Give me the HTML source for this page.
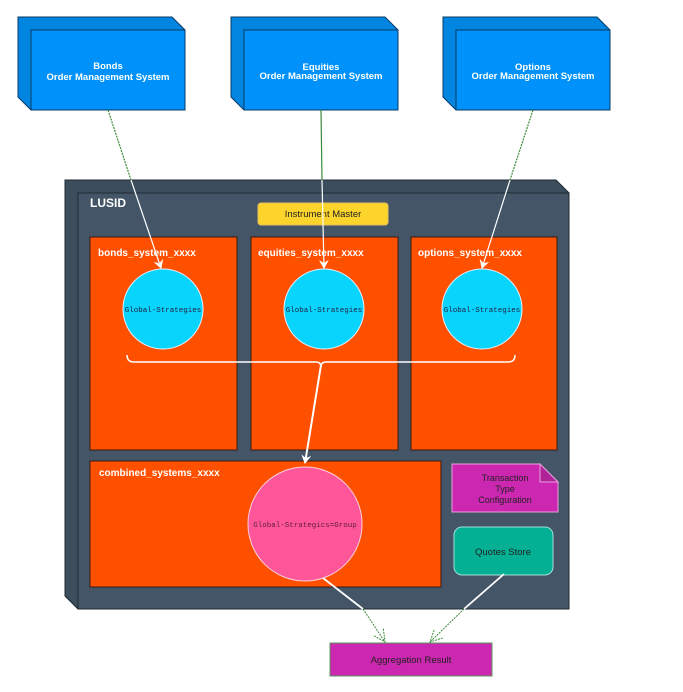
<!DOCTYPE html>
<html><head><meta charset="utf-8"><style>
html,body{margin:0;padding:0;background:#fff;}
svg{display:block;font-family:"Liberation Sans",sans-serif;}
</style></head><body>
<svg width="683" height="692" viewBox="0 0 683 692" xmlns="http://www.w3.org/2000/svg">
<defs>
<marker id="wa" markerWidth="10" markerHeight="10" refX="8" refY="5" orient="auto" markerUnits="userSpaceOnUse"><path d="M0,0 L9,5 L0,10 L3,5 Z" fill="#fff"/></marker>
<marker id="ga" markerWidth="14" markerHeight="14" refX="12" refY="7" orient="auto" markerUnits="userSpaceOnUse"><path d="M0,1 L12,7 L0,13" fill="none" stroke="#3a8a3a" stroke-width="1" stroke-dasharray="2,1"/></marker>
</defs>
<g stroke="#0a3a66" stroke-width="1">
<polygon points="18,17 172,17 185,30 185,110 31,110 18,97" fill="#0086e0"/>
<rect x="31" y="30" width="154" height="80" fill="#0092fa"/>
<polygon points="231,17 385,17 398,30 398,110 244,110 231,97" fill="#0086e0"/>
<rect x="244" y="30" width="154" height="80" fill="#0092fa"/>
<polygon points="443,17 597,17 610,30 610,110 456,110 443,97" fill="#0086e0"/>
<rect x="456" y="30" width="154" height="80" fill="#0092fa"/>
</g>
<g fill="#fff" font-size="9.5" font-weight="bold" text-anchor="middle">
<text x="108" y="69">Bonds</text><text x="108" y="80">Order Management System</text>
<text x="321" y="70">Equities</text><text x="321" y="79">Order Management System</text>
<text x="533" y="70">Options</text><text x="533" y="79">Order Management System</text>
</g>
<polygon points="65,180 556,180 569,193 569,609 78,609 65,596" fill="#3c4d5c" stroke="#1e2a33"/>
<rect x="78" y="193" width="491" height="416" fill="#435566" stroke="#1e2a33"/>
<text x="90" y="207" fill="#fff" font-size="12" font-weight="bold">LUSID</text>
<rect x="258" y="203" width="130" height="22" rx="3" fill="#fcd42c" stroke="#e8c060"/>
<text x="323" y="217" font-size="9.5" text-anchor="middle" fill="#222">Instrument Master</text>
<g fill="#ff5000" stroke="#3a1a10">
<rect x="90" y="237" width="147" height="213"/>
<rect x="251" y="237" width="147" height="213"/>
<rect x="411" y="237" width="146" height="213"/>
<rect x="90" y="461" width="351" height="126"/>
</g>
<g fill="#fff" font-size="10" font-weight="bold">
<text x="98" y="256">bonds_system_xxxx</text>
<text x="258" y="256">equities_system_xxxx</text>
<text x="418" y="256">options_system_xxxx</text>
<text x="99" y="476">combined_systems_xxxx</text>
</g>
<g fill="#08d4fc" stroke="#e0f0ff">
<circle cx="163" cy="309" r="40"/><circle cx="324" cy="309" r="40"/><circle cx="482" cy="309" r="40"/>
</g>
<g font-family="Liberation Mono,monospace" font-size="7.5" fill="#224" text-anchor="middle">
<text x="163" y="312">Global-Strategies</text><text x="324" y="312">Global-Strategies</text><text x="482" y="312">Global-Strategies</text>
</g>
<circle cx="305" cy="524" r="57" fill="#ff5599" stroke="#ffd0e0"/>
<text x="305" y="527" font-family="Liberation Mono,monospace" font-size="7.5" fill="#602040" text-anchor="middle">Global-Strategics=Group</text>
<path d="M127,355 Q127,362 134,362 L316,362 Q321,362 321,367 Q321,362 326,362 L508,362 Q515,362 515,355" fill="none" stroke="#fff" stroke-width="1.5"/>
<line x1="321" y1="365" x2="305" y2="463" stroke="#fff" stroke-width="2" marker-end="url(#wa)"/>
<g stroke-width="1.2">
<line x1="108" y1="110" x2="131" y2="180" stroke="#3a8a3a" stroke-dasharray="2,1"/>
<line x1="131" y1="180" x2="161" y2="268" stroke="#fff" marker-end="url(#wa)"/>
<line x1="321" y1="110" x2="322" y2="180" stroke="#3a8a3a"/>
<line x1="322" y1="180" x2="324" y2="268" stroke="#fff" marker-end="url(#wa)"/>
<line x1="533" y1="110" x2="510" y2="180" stroke="#3a8a3a" stroke-dasharray="2,1"/>
<line x1="510" y1="180" x2="482" y2="268" stroke="#fff" marker-end="url(#wa)"/>
</g>
<polygon points="452,464 540,464 558,482 558,512 452,512" fill="#cc27b0" stroke="#e8a0e0"/>
<polygon points="540,464 540,482 558,482" fill="#b02498" stroke="#e8a0e0"/>
<g font-size="9" fill="#222" text-anchor="middle"><text x="505" y="481">Transaction</text><text x="505" y="492">Type</text><text x="505" y="503">Configuration</text></g>
<rect x="454" y="527" width="99" height="48" rx="8" fill="#04b094" stroke="#a0e0d8"/>
<text x="503" y="555" font-size="9.5" fill="#222" text-anchor="middle">Quotes Store</text>
<line x1="323" y1="578" x2="363" y2="609" stroke="#fff" stroke-width="1.8"/>
<line x1="363" y1="609" x2="385" y2="642" stroke="#3a8a3a" stroke-dasharray="2,1" marker-end="url(#ga)"/>
<line x1="504" y1="574" x2="464" y2="609" stroke="#fff" stroke-width="1.8"/>
<line x1="464" y1="609" x2="430" y2="642" stroke="#3a8a3a" stroke-dasharray="2,1" marker-end="url(#ga)"/>
<rect x="330" y="643" width="162" height="33" fill="#cc27b0" stroke="#5a9a5a"/>
<text x="411" y="663" font-size="9.5" fill="#222" text-anchor="middle">Aggregation Result</text>
</svg>
</body></html>
